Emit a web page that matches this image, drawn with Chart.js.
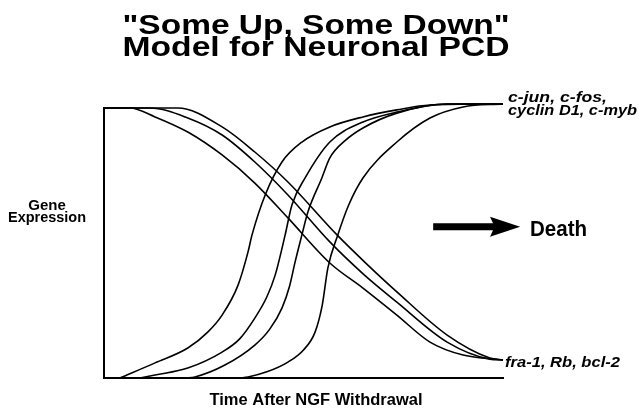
<!DOCTYPE html>
<html>
<head>
<meta charset="utf-8">
<script src="https://cdn.jsdelivr.net/npm/chart.js@4.4.1/dist/chart.umd.min.js"></script>
<style>
  html, body { margin: 0; padding: 0; background: #fff; }
  #wrap { width: 639px; height: 410px; }
</style>
</head>
<body>
<div id="wrap"><canvas id="myChart" width="639" height="410"></canvas></div>
<script>
// curves, [time, expression] on a 0..100 scale
const upJun = [[4, 0], [12.8, 5.6], [21, 11.1], [26, 17], [29.6, 23.3], [33.6, 34.4], [36.1, 46.7], [37.1, 53], [40.4, 67.8], [44.6, 80], [49.6, 87.4], [56.6, 93], [64.9, 96.7], [73.4, 99.3], [81.7, 101.1], [100, 101.5]];
const upFos = [[9, 0], [12.8, 1.1], [21, 3.7], [29.6, 9.6], [34, 14.5], [37.8, 22.2], [40.8, 30], [42.9, 38.1], [45.4, 53], [47.1, 64.1], [50.4, 74.1], [56.6, 87.4], [64.9, 94.8], [73.4, 98.5], [86, 101.5], [100, 101.5]];
const upCyclin = [[20.3, 0], [22.8, 0.4], [30.3, 4.8], [37.8, 12.2], [41.5, 18], [44.6, 25.9], [46.5, 34], [47.9, 43], [49.6, 53], [51.1, 61.5], [54.6, 74.1], [56.6, 81.5], [60.5, 88], [64.9, 92.6], [73.4, 98.1], [86, 101.5], [100, 101.5]];
const upMyb = [[34.1, 0], [36.1, 0.4], [41, 2.4], [46.1, 5.9], [50, 10.4], [52.9, 17], [54.7, 27], [56.1, 40.7], [58.6, 53], [61.3, 64], [64.9, 74.1], [73.4, 87.4], [81.7, 96.3], [90, 100.4], [100, 101.5]];

const downFra = [[0, 100], [6.5, 100], [12.8, 96.7], [21, 91.1], [29.6, 82.6], [37.8, 72.2], [46.1, 59.3], [56.6, 42.6], [64.9, 33.3], [73.4, 23.3], [81.7, 13.3], [90, 8.5], [100, 6.7]];
const downRb = [[0, 100], [11.5, 100], [21, 96.3], [29.6, 90], [37.8, 80], [46.1, 67.8], [56.6, 50.4], [65, 38.5], [73.4, 28.1], [86, 13.3], [96.7, 7], [100, 6.7]];
const downBcl = [[0, 100], [18.5, 100], [29.6, 93], [37.8, 83.7], [46.1, 72.6], [58.4, 53], [66, 42], [73.4, 31.9], [86, 15.9], [96.7, 7.4], [100, 6.7]];

const titleLines = ['"Some Up, Some Down"', "Model for Neuronal PCD"];
const upLabel = ["c-jun, c-fos,", "cyclin D1, c-myb"];
const downLabel = "fra-1, Rb, bcl-2";
const yLabel = ["Gene", "Expression"];
const xLabel = "Time After NGF Withdrawal";
const outcome = "Death";

const curves = [upJun, upFos, upCyclin, upMyb, downFra, downRb, downBcl];

const toPoints = (arr) => arr.map((p) => ({ x: p[0], y: p[1] }));

// text squeezed / stretched horizontally to the width it has in the figure
const drawText = (ctx, text, x, y, width, align) => {
  const w = ctx.measureText(text).width;
  ctx.save();
  ctx.translate(x, y);
  ctx.scale(width ? width / w : 1, 1);
  ctx.textAlign = align;
  ctx.fillText(text, 0, 0);
  ctx.restore();
};

const annotations = {
  id: "annotations",
  afterDraw(chart) {
    const ctx = chart.ctx;
    const xs = chart.scales.x;
    const ys = chart.scales.y;
    ctx.save();
    ctx.fillStyle = "#000";
    ctx.textBaseline = "alphabetic";

    ctx.font = "bold 27px 'Liberation Sans', Arial, sans-serif";
    drawText(ctx, titleLines[0], 316, 34, 387, "center");
    drawText(ctx, titleLines[1], 316, 56, 387, "center");

    ctx.font = "bold 15px 'Liberation Sans', Arial, sans-serif";
    drawText(ctx, yLabel[0], 47, 210, 0, "center");
    drawText(ctx, yLabel[1], 47, 222, 78, "center");

    ctx.font = "bold 16px 'Liberation Sans', Arial, sans-serif";
    drawText(ctx, xLabel, 316, 405, 213, "center");

    ctx.font = "italic bold 15px 'Liberation Sans', Arial, sans-serif";
    drawText(ctx, upLabel[0], 508, 102, 99, "left");
    drawText(ctx, upLabel[1], 508, 115, 129, "left");
    drawText(ctx, downLabel, 505, 367, 115, "left");

    // arrow towards "Death"
    const ay = ys.getPixelForValue(56);
    const ax0 = xs.getPixelForValue(82.5);
    const ax1 = xs.getPixelForValue(97.5);
    const tip = xs.getPixelForValue(104.3);
    ctx.beginPath();
    ctx.moveTo(ax0, ay - 3.5);
    ctx.lineTo(ax1, ay - 3.5);
    ctx.lineTo(ax1 - 3, ay - 10);
    ctx.lineTo(tip, ay);
    ctx.lineTo(ax1 - 3, ay + 10);
    ctx.lineTo(ax1, ay + 3.5);
    ctx.lineTo(ax0, ay + 3.5);
    ctx.closePath();
    ctx.fill();

    ctx.font = "bold 22px 'Liberation Sans', Arial, sans-serif";
    drawText(ctx, outcome, 530, 236, 57, "left");
    ctx.restore();
  },
};

new Chart(document.getElementById("myChart"), {
  type: "scatter",
  data: {
    datasets: curves.map((c) => ({
      data: toPoints(c),
      showLine: true,
      borderColor: "#000",
      borderWidth: 1.6,
      pointRadius: 0,
      cubicInterpolationMode: "monotone",
      clip: false,
    })),
  },
  options: {
    responsive: false,
    animation: false,
    layout: { padding: { left: 104, right: 136, top: 108, bottom: 32 } },
    plugins: {
      legend: { display: false },
      tooltip: { enabled: false },
    },
    scales: {
      x: {
        type: "linear",
        min: 0,
        max: 100,
        grid: { display: false },
        ticks: { display: false },
        border: { display: true, color: "#000", width: 2 },
        afterFit: (s) => { s.height = 0; },
      },
      y: {
        type: "linear",
        min: 0,
        max: 100,
        grid: { display: false },
        ticks: { display: false },
        border: { display: true, color: "#000", width: 2 },
        afterFit: (s) => { s.width = 0; },
      },
    },
  },
  plugins: [annotations],
});
</script>
</body>
</html>
